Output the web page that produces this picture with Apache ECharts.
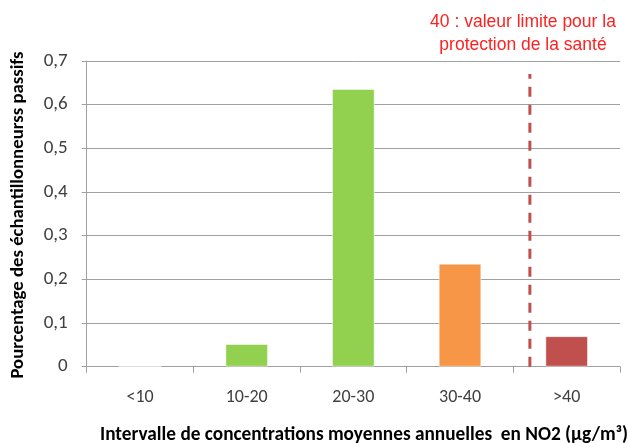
<!DOCTYPE html>
<html>
<head>
<meta charset="utf-8">
<script src="https://cdn.jsdelivr.net/npm/echarts@6/dist/echarts.min.js"></script>
<style>
  html, body { margin: 0; padding: 0; background: #ffffff; }
  #chart { width: 628px; height: 443px; }
</style>
</head>
<body>
<div id="chart"></div>
<script>
// Concentration classes (µg/m³) and share of passive samplers in each
const categories = ['<10', '10-20', '20-30', '30-40', '>40'];
const shares = [0, 0.052, 0.636, 0.236, 0.07];
const barColors = ['#92d050', '#92d050', '#92d050', '#f79646', '#c0504d'];
const yTicks = { min: 0, max: 0.7, interval: 0.1 };

// Health limit marker (40 µg/m³), placed on a 0..5 class scale
const limitX = 4.155;
const limitTop = 0.67;
const limitText = ['40 : valeur limite pour la', 'protection de la santé'];

const yTitle = 'Pourcentage des échantillonneurss passifs';
const xTitle = 'Intervalle de concentrations moyennes annuelles  en NO2 (µg/m³)';

const chart = echarts.init(document.getElementById('chart'), null, { renderer: 'canvas' });

const font = 'Carlito, "Liberation Sans", Arial, sans-serif';

chart.setOption({
  animation: false,
  backgroundColor: '#ffffff',
  grid: { left: 86.7, right: 8, top: 61, bottom: 76.3, containLabel: false },
  xAxis: [
    {
      type: 'category',
      data: categories,
      axisLine: { show: true, lineStyle: { color: '#a0a0a0', width: 1 } },
      axisTick: { show: true, length: 6, lineStyle: { color: '#a0a0a0' } },
      axisLabel: { color: '#404040', fontSize: 18, fontFamily: font, margin: 22 },
      splitLine: { show: false }
    },
    {
      type: 'value',
      min: 0, max: 5,
      show: false,
      position: 'bottom'
    }
  ],
  yAxis: {
    type: 'value',
    min: yTicks.min, max: yTicks.max, interval: yTicks.interval,
    axisLine: { show: true, lineStyle: { color: '#a0a0a0', width: 1 } },
    axisTick: { show: true, length: 5, lineStyle: { color: '#a0a0a0' } },
    axisLabel: {
      color: '#404040', fontSize: 19, fontFamily: font, margin: 19,
      formatter: v => String(Math.round(v * 10) / 10).replace('.', ',')
    },
    splitLine: { show: true, lineStyle: { color: '#a0a0a0', width: 1 } }
  },
  series: [
    {
      type: 'bar',
      xAxisIndex: 0,
      barWidth: '40%',
      data: shares.map((v, i) => ({
        value: v,
        itemStyle: { color: barColors[i], borderColor: 'rgba(255,255,255,0.5)', borderWidth: 1 }
      }))
    },
    {
      type: 'line',
      xAxisIndex: 1,
      symbol: 'none',
      silent: true,
      lineStyle: { color: '#c0504d', width: 3, type: [10, 8] },
      data: [[limitX, 0], [limitX, limitTop]]
    }
  ],
  graphic: [
    {
      type: 'text',
      x: 523, y: 11,
      style: {
        text: limitText.join('\n'),
        fill: '#ff2020',
        font: '17.5px "Liberation Sans", Arial, sans-serif',
        align: 'center',
        verticalAlign: 'top',
        lineHeight: 23
      }
    },
    {
      type: 'text',
      rotation: Math.PI / 2,
      x: 18, y: 215,
      style: {
        text: yTitle,
        fill: '#000000',
        font: 'bold 18.8px ' + font,
        align: 'center',
        verticalAlign: 'middle'
      }
    },
    {
      type: 'text',
      x: 100, y: 435,
      style: {
        text: xTitle,
        fill: '#000000',
        font: 'bold 19.3px ' + font,
        align: 'left',
        verticalAlign: 'middle'
      }
    }
  ]
});
</script>
</body>
</html>
